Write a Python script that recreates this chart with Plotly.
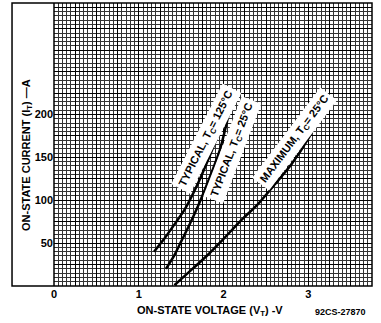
import plotly.graph_objects as go

# on-state characteristics
v_typ125 = [1.18, 1.30, 1.40, 1.54, 1.70, 1.85, 2.04]
i_typ125 = [40, 55, 69, 89, 120, 155, 203]

v_typ25 = [1.32, 1.42, 1.50, 1.60, 1.71, 1.85, 1.96, 2.06]
i_typ25 = [20, 36, 52, 72, 96, 130, 160, 200]

v_max25 = [1.42, 1.60, 1.80, 2.00, 2.20, 2.40, 2.60, 2.80, 3.00, 3.14]
i_max25 = [1, 17, 35, 55, 76, 95, 118, 142, 172, 200]

x_ticks = [i * 0.25 for i in range(16)]
x_labels = ["0", "", "", "", "1", "", "", "", "2", "", "", "", "3", "", "", ""]
y_ticks = list(range(0, 335, 25))
y_labels = ["" if t % 50 or t == 0 or t > 200 else str(t) for t in y_ticks]

font = "Liberation Sans"

fig = go.Figure()
for v, i in [(v_typ125, i_typ125), (v_typ25, i_typ25), (v_max25, i_max25)]:
    fig.add_trace(go.Scatter(x=v, y=i, mode="lines", line=dict(color="black", width=2.5, shape="spline", smoothing=0.6),
                             showlegend=False, hoverinfo="skip"))

lbl = dict(showarrow=False, bgcolor="white", borderpad=3,
           font=dict(family=font, size=11, color="black", weight="bold"))
fig.add_annotation(x=1.79, y=172, text="TYPICAL, T<sub>C</sub>= 125°C", textangle=-63, **lbl)
fig.add_annotation(x=2.10, y=159, text="TYPICAL, T<sub>C</sub>= 25°C", textangle=-69, **lbl)
fig.add_annotation(x=2.84, y=171, text="MAXIMUM, T<sub>C</sub>= 25°C", textangle=-53, **lbl)

txt = dict(showarrow=False, xref="paper", yref="paper", xanchor="center", yanchor="middle",
           font=dict(family=font, size=11, color="black", weight="bold"))
fig.add_annotation(x=0.49, y=-0.088, text="ON-STATE VOLTAGE (V<sub>T</sub>) -V", **txt)
fig.add_annotation(x=-0.085, y=0.463, text="ON-STATE CURRENT (I<sub>T</sub>) —A", textangle=-90, **txt)
fig.add_annotation(x=0.90, y=-0.092, text="92CS-27870",
                   showarrow=False, xref="paper", yref="paper", xanchor="center", yanchor="middle",
                   font=dict(family=font, size=9, color="black", weight="bold"))

# frame around plot and the white label strip
fig.add_shape(type="rect", xref="paper", yref="paper", x0=-0.132, x1=1, y0=0, y1=1,
              line=dict(color="black", width=1.5), layer="above")
fig.add_shape(type="line", xref="paper", yref="paper", x0=0, x1=0, y0=0, y1=1,
              line=dict(color="black", width=1.5), layer="above")

fig.update_xaxes(range=[0, 3.75], tickvals=x_ticks, ticktext=x_labels, showgrid=True,
                 gridcolor="black", gridwidth=1.3, zeroline=False, ticks="", showline=False,
                 tickfont=dict(family=font, size=11, color="black", weight="bold"),
                 minor=dict(dtick=0.05, showgrid=True, gridcolor="#333", gridwidth=0.75))
fig.update_yaxes(range=[0, 330], tickvals=y_ticks, ticktext=y_labels, showgrid=True,
                 gridcolor="black", gridwidth=1.3, zeroline=False, ticks="", showline=False,
                 tickfont=dict(family=font, size=11, color="black", weight="bold"),
                 minor=dict(dtick=5, showgrid=True, gridcolor="#333", gridwidth=0.75))

fig.update_layout(width=381, height=323, margin=dict(l=54, r=9, t=3, b=37),
                  plot_bgcolor="white", paper_bgcolor="white")

fig.write_html("out.html", config={"displayModeBar": False},
               post_script="document.body.style.margin='0';")
